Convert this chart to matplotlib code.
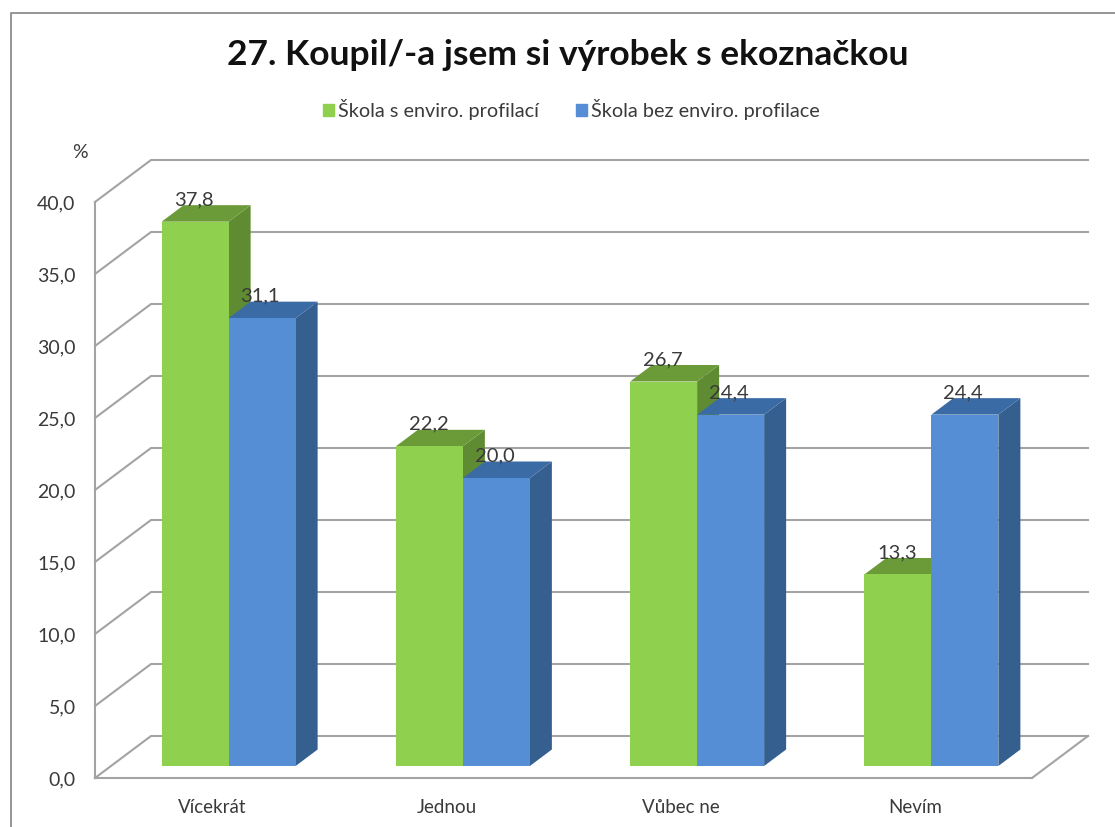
import matplotlib
matplotlib.use("Agg")
import matplotlib.pyplot as plt
from matplotlib.lines import Line2D
from matplotlib.patches import Patch

plt.rcParams['font.family'] = ['Lato', 'DejaVu Sans']

# -------------------------------------------------
# Data
# -------------------------------------------------
categories = ['Vícekrát', 'Jednou', 'Vůbec ne', 'Nevím']
green_values = [37.8, 22.2, 26.7, 13.3]
blue_values = [31.1, 20.0, 24.4, 24.4]
series_names = ['Škola s enviro. profilací', 'Škola bez enviro. profilace']
y_ticks = [0, 5, 10, 15, 20, 25, 30, 35, 40]

W, H = 1115, 827
fig = plt.figure(figsize=(W / 100, H / 100), dpi=100, facecolor='white')

# axes box in pixels: left 95, right 1032, top 202, bottom 778
ax = fig.add_axes([95 / W, 1 - 778 / H, 937 / W, 576 / H])
ax.set_xlim(-0.5, 3.5)
ax.set_ylim(0, 40)

# sizes of one pixel in data units
xpx = 4 / 937
ypx = 40 / 576

grid_col = '#a3a3a3'
text_col = '#3a3a3a'
wall_dx, wall_dy = 56 * xpx, 42 * ypx

# -------------------------------------------------
# Fake 3D walls
# -------------------------------------------------
for t in y_ticks:
    ax.plot([-0.5, -0.5 + wall_dx, 3.5 + wall_dx], [t, t + wall_dy, t + wall_dy],
            color=grid_col, lw=1.5, clip_on=False, zorder=1)
ax.plot([3.5, 3.5 + wall_dx], [0, wall_dy], color=grid_col, lw=1.5, clip_on=False, zorder=1)


# -------------------------------------------------
# Bars with top and side faces
# -------------------------------------------------
def bar3d(x, val, front, top, side, z):
    w = 67 * xpx
    base = 12 * ypx
    dx, dy = 22 * xpx, 16.5 * ypx
    ax.fill([x + w, x + w + dx, x + w + dx, x + w],
            [base, base + dy, base + val + dy, base + val],
            color=side, lw=0, clip_on=False, zorder=z)
    ax.fill([x, x + dx, x + w + dx, x + w],
            [base + val, base + val + dy, base + val + dy, base + val],
            color=top, lw=0, clip_on=False, zorder=z)
    ax.bar(x, val, width=w, bottom=base, align='edge', color=front, lw=0, clip_on=False, zorder=z)


bar_w = 67 * xpx
shift = 16.5 * xpx
for i in range(len(categories)):
    bar3d(i + shift - bar_w, green_values[i], '#8fd14f', '#6b9a38', '#5f8c32', 3)
    bar3d(i + shift, blue_values[i], '#558ed5', '#3b6ba5', '#355f8f', 4)

for i in range(len(categories)):
    ax.text(i + shift - bar_w / 2 - xpx, green_values[i] + 34 * ypx, f'{green_values[i]:.1f}'.replace('.', ','),
            ha='center', va='center', fontsize=14.5, color=text_col, zorder=6)
    ax.text(i + shift + bar_w / 2 - 2 * xpx, blue_values[i] + 34 * ypx, f'{blue_values[i]:.1f}'.replace('.', ','),
            ha='center', va='center', fontsize=14.5, color=text_col, zorder=6)

# -------------------------------------------------
# Axes, ticks, labels
# -------------------------------------------------
for s in ['top', 'right']:
    ax.spines[s].set_visible(False)
for s in ['left', 'bottom']:
    ax.spines[s].set_color(grid_col)
    ax.spines[s].set_linewidth(1.5)
ax.patch.set_alpha(0)
ax.set_xticks(range(len(categories)))
ax.set_xticklabels(categories, fontsize=13.5, color=text_col)
ax.set_yticks(y_ticks)
ax.set_yticklabels([f'{t:.1f}'.replace('.', ',') for t in y_ticks], fontsize=14, color=text_col)
ax.tick_params(axis='x', length=0, pad=15)
ax.tick_params(axis='y', length=0, pad=14)

fig.text(80 / W, 1 - 152 / H, '%', ha='center', va='center', fontsize=14, color=text_col)
fig.text(568 / W, 1 - 55 / H, '27. Koupil/-a jsem si výrobek s ekoznačkou', ha='center', va='center',
         fontsize=25.5, fontweight='bold', color='#111111')

handles = [Patch(color='#8fd14f', label=series_names[0]), Patch(color='#558ed5', label=series_names[1])]
fig.legend(handles=handles, loc='center', bbox_to_anchor=(571.5 / W, 1 - 110 / H), ncol=2, frameon=False,
           fontsize=14.3, labelcolor=text_col, handlelength=0.55, handleheight=0.55, handletextpad=0.2,
           columnspacing=1.9)

# outer chart frame, only top and left show
fig.add_artist(Line2D([10.5 / W, 10.5 / W, 1], [0, 1 - 12.5 / H, 1 - 12.5 / H], color='#8c8c8c', lw=1.3))

fig.savefig('out.png', dpi=100)
